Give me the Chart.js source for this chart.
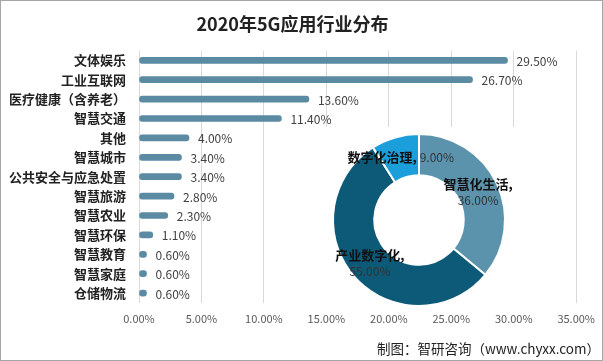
<!DOCTYPE html>
<html>
<head>
<meta charset="utf-8">
<script src="https://cdn.jsdelivr.net/npm/chart.js@4/dist/chart.umd.min.js"></script>
<style>
  body { margin: 0; background: #fff; }
  #wrap { position: relative; width: 603px; height: 361px; box-sizing: border-box; border: 1px solid #a6a6a6; }
  #barChart { position: absolute; left: 0; top: 0; }
  #donutBox { position: absolute; left: 323px; top: 126px; width: 190px; height: 186px; background: #fff; }
  #source { position: absolute; right: 2px; bottom: 2px; font: 13.5px "Noto Sans CJK SC", sans-serif; color: #222; }
</style>
</head>
<body>
<div id="wrap">
  <canvas id="barChart" width="603" height="361"></canvas>
  <div id="donutBox"><canvas id="donutChart"></canvas></div>
  <div id="source">制图：智研咨询（www.chyxx.com）</div>
</div>
<script>
const categories = ['文体娱乐', '工业互联网', '医疗健康（含养老）', '智慧交通', '其他', '智慧城市', '公共安全与应急处置', '智慧旅游', '智慧农业', '智慧环保', '智慧教育', '智慧家庭', '仓储物流'];
const shares = [29.5, 26.7, 13.6, 11.4, 4.0, 3.4, 3.4, 2.8, 2.3, 1.1, 0.6, 0.6, 0.6];
const xTicks = [0, 5, 10, 15, 20, 25, 30, 35];

const donutLabels = ['智慧化生活', '产业数字化', '数字化治理'];
const donutValues = [36, 55, 9];
const donutColors = ['#5b93ad', '#0c5a78', '#1a9fda'];

const FONT = '"Noto Sans CJK SC", "Noto Sans", sans-serif';

function pct(v) {
  return Number(v).toFixed(2) + '%';
}

// value labels after each bar
const barValues = {
  id: 'barValues',
  afterDatasetsDraw(chart) {
    const ctx = chart.ctx;
    const meta = chart.getDatasetMeta(0);
    ctx.save();
    ctx.font = '12px ' + FONT;
    ctx.fillStyle = '#404040';
    ctx.textBaseline = 'middle';
    meta.data.forEach((bar, i) => {
      ctx.fillText(pct(shares[i]), bar.x + 9, bar.y + 1);
    });
    ctx.restore();
  }
};

new Chart(document.getElementById('barChart'), {
  type: 'bar',
  data: {
    labels: categories,
    datasets: [{
      data: shares,
      backgroundColor: '#5b8ba2',
      barThickness: 6,
      borderRadius: 3,
      borderSkipped: false
    }]
  },
  options: {
    indexAxis: 'y',
    responsive: false,
    animation: false,
    layout: { padding: { top: 6, left: 6, right: 26, bottom: 28 } },
    plugins: {
      legend: { display: false },
      tooltip: { enabled: false },
      title: {
        display: true,
        text: '2020年5G应用行业分布',
        color: '#222',
        font: { size: 18, weight: 'bold', family: FONT },
        padding: { top: 6, bottom: 16 }
      }
    },
    scales: {
      x: {
        min: 0,
        max: 35,
        afterBuildTicks: s => { s.ticks = xTicks.map(v => ({ value: v })); },
        grid: { color: '#d9d9d9', drawTicks: false },
        border: { display: false },
        ticks: {
          padding: 9,
          color: '#595959',
          font: { size: 11, family: FONT },
          callback: v => pct(v)
        }
      },
      y: {
        afterFit: s => { s.width = 132; },
        grid: { display: false, drawTicks: false },
        border: { display: false },
        ticks: {
          padding: 13,
          color: '#222',
          font: { size: 13, weight: 'bold', family: FONT }
        }
      }
    }
  },
  plugins: [barValues]
});

// labels sitting on the doughnut slices
const donutText = {
  id: 'donutText',
  afterDatasetsDraw(chart) {
    const ctx = chart.ctx;
    const meta = chart.getDatasetMeta(0);
    ctx.save();
    ctx.textAlign = 'center';
    ctx.textBaseline = 'middle';
    meta.data.forEach((arc, i) => {
      const p = arc.tooltipPosition();
      const name = donutLabels[i] + ',';
      const val = pct(donutValues[i]);
      if (donutValues[i] < 20) {
        ctx.font = 'bold 13px ' + FONT;
        const w1 = ctx.measureText(name + ' ').width;
        ctx.font = '12px ' + FONT;
        const w2 = ctx.measureText(val).width;
        const x0 = p.x - (w1 + w2) / 2;
        ctx.textAlign = 'left';
        ctx.font = 'bold 13px ' + FONT;
        ctx.fillStyle = '#111';
        ctx.fillText(name, x0, p.y);
        ctx.font = '12px ' + FONT;
        ctx.fillStyle = '#333';
        ctx.fillText(val, x0 + w1, p.y);
        ctx.textAlign = 'center';
      } else {
        ctx.font = 'bold 13px ' + FONT;
        ctx.fillStyle = '#111';
        ctx.fillText(name, p.x, p.y - 8);
        ctx.font = '12px ' + FONT;
        ctx.fillStyle = '#333';
        ctx.fillText(val, p.x, p.y + 8);
      }
    });
    ctx.restore();
  }
};

new Chart(document.getElementById('donutChart'), {
  type: 'doughnut',
  data: {
    labels: donutLabels,
    datasets: [{
      data: donutValues,
      backgroundColor: donutColors,
      borderColor: '#fff',
      borderWidth: 2,
      hoverOffset: 0
    }]
  },
  options: {
    responsive: true,
    maintainAspectRatio: false,
    animation: false,
    cutout: '52%',
    layout: { padding: 6 },
    plugins: {
      legend: { display: false },
      tooltip: { enabled: false }
    }
  },
  plugins: [donutText]
});
</script>
</body>
</html>
